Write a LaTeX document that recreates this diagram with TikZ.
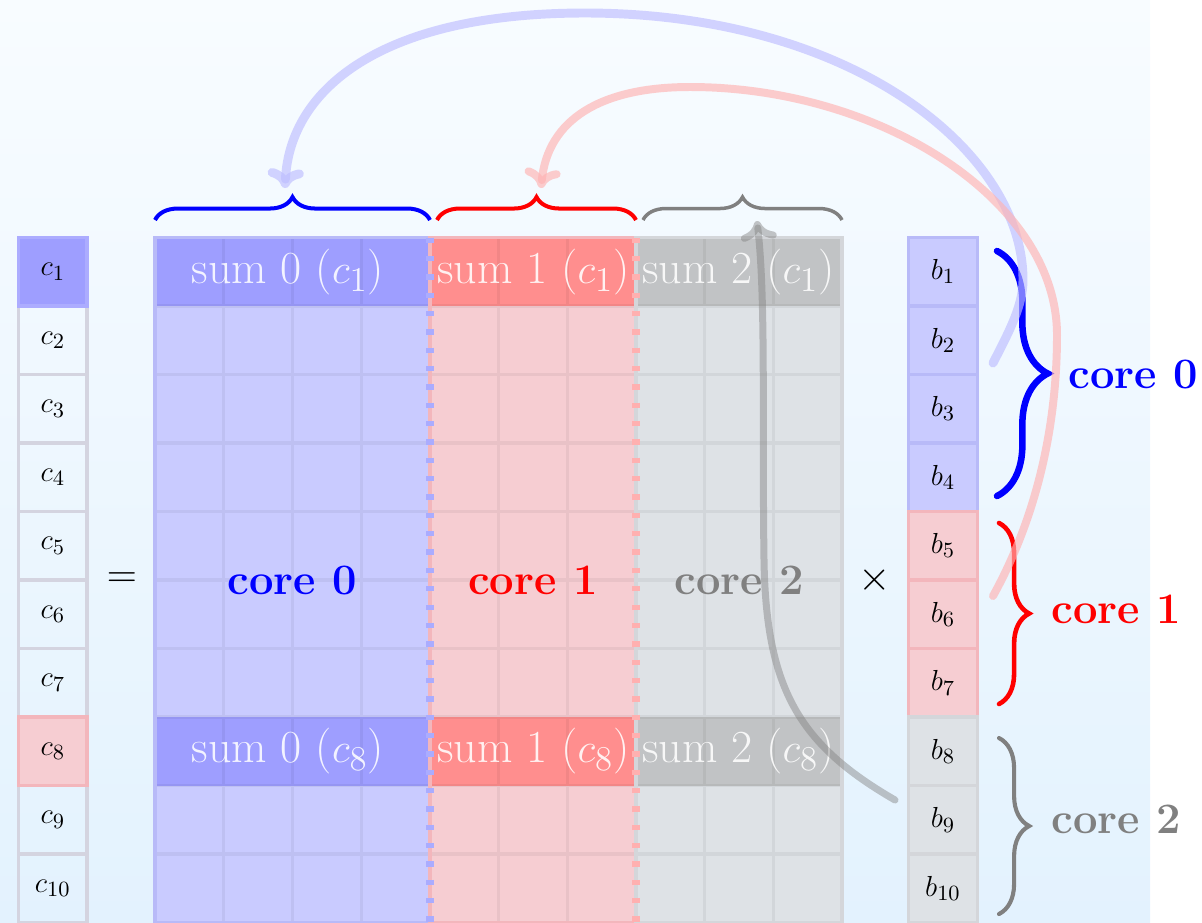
\documentclass[tikz,border=0pt]{standalone}
\usetikzlibrary{decorations.pathreplacing,arrows.meta}
\definecolor{bgTop}{RGB}{248,252,255}
\definecolor{bgBot}{RGB}{227,242,254}
\definecolor{cBorder}{RGB}{212,212,224}
\definecolor{blueHead}{RGB}{158,158,255}
\definecolor{blueHeadEdge}{RGB}{172,172,255}
\definecolor{blueCell}{RGB}{201,203,255}
\definecolor{blueEdge}{RGB}{184,186,248}
\definecolor{redHead}{RGB}{255,142,142}
\definecolor{redCell}{RGB}{246,205,210}
\definecolor{redEdge}{RGB}{243,182,188}
\definecolor{grayHead}{RGB}{193,195,197}
\definecolor{grayCell}{RGB}{222,226,230}
\definecolor{grayEdge}{RGB}{212,214,218}
\definecolor{sepBlue}{RGB}{170,172,255}
\definecolor{sepRed}{RGB}{255,176,176}
\tikzset{
  cellbox/.style={minimum width=1cm, minimum height=0.997cm, inner sep=0pt, line width=1.45pt, font=\fontsize{13}{15}\selectfont},
  cplain/.style={cellbox, draw=cBorder},
  cblue/.style={cellbox, draw=blueHeadEdge, fill=blueHead},
  cred/.style={cellbox, draw=redEdge, fill=redCell},
  bblue/.style={cellbox, draw=blueEdge, fill=blueCell},
  bred/.style={cellbox, draw=redEdge, fill=redCell},
  bgray/.style={cellbox, draw=grayEdge, fill=grayCell},
  gridline/.style={draw=black, draw opacity=0.05, line width=1.3pt},
  sepline/.style={line width=3.1pt, dash pattern=on 2.2pt off 5.4pt},
  headtxt/.style={font=\fontsize{19}{23}\selectfont, text=white, text opacity=0.88, inner sep=0pt},
  coretxt/.style={font=\fontsize{18}{22}\selectfont\bfseries, inner sep=0pt},
  topbrace/.style={decorate, decoration={brace, amplitude=9.5pt}, line width=1.66pt},
  sidebrace/.style={decorate, decoration={brace, amplitude=#1}, line cap=round},
  flow/.style={line width=#1, line cap=round, -{To[length=8pt,width=15pt,round]}},
}
\begin{document}
\begin{tikzpicture}[x=0.014556cm, y=-0.014556cm]
\useasboundingbox (0,0) rectangle (1202,922);
\shade[top color=bgTop, bottom color=bgBot] (0,0) rectangle (1150,922);

% matrix regions
\fill[blueCell] (155,237.5) rectangle (429.8,922.5);
\fill[redCell] (429.8,237.5) rectangle (635.9,922.5);
\fill[grayCell] (635.9,237.5) rectangle (842,922.5);
\foreach \yy in {237.5,717}{
  \fill[blueHead] (155,\yy) rectangle (429.8,\yy+68.5);
  \fill[redHead] (429.8,\yy) rectangle (635.9,\yy+68.5);
  \fill[grayHead] (635.9,\yy) rectangle (842,\yy+68.5);
}
\draw[gridline] foreach \j in {1,...,9}{(155+68.7*\j,237.5) -- (155+68.7*\j,922.5)}
                foreach \i in {1,...,9}{(155,237.5+68.5*\i) -- (842,237.5+68.5*\i)};
\draw[blueEdge, line width=1.45pt] (155,237.5) rectangle (429.8,922.5);
\draw[redEdge, line width=1.45pt] (429.8,237.5) rectangle (635.9,922.5);
\draw[grayEdge, line width=1.45pt] (635.9,237.5) rectangle (842,922.5);
\draw[sepline, draw=sepBlue] (429.8,237.5) -- (429.8,922.5);
\draw[sepline, draw=sepRed] (635.9,237.5) -- (635.9,922.5);

% c column
\foreach \i in {2,...,7,9,10}{
  \node[cplain] (c\i) at (52.85,203.25+68.5*\i) {$c_{\i}$};
}
\node[cblue] (c1) at (52.85,271.75) {$c_{1}$};
\node[cred] (c8) at (52.85,751.25) {$c_{8}$};

% b column
\foreach \i in {1,...,4}{
  \node[bblue] (b\i) at (943,203.25+68.5*\i) {$b_{\i}$};
}
\foreach \i in {5,...,7}{
  \node[bred] (b\i) at (943,203.25+68.5*\i) {$b_{\i}$};
}
\foreach \i in {8,...,10}{
  \node[bgray] (b\i) at (943,203.25+68.5*\i) {$b_{\i}$};
}

% header texts
\node[headtxt] (h01) at (288,271.75) {sum 0 ($c_1$)};
\node[headtxt] (h11) at (533.5,271.75) {sum 1 ($c_1$)};
\node[headtxt] (h21) at (738.5,271.75) {sum 2 ($c_1$)};
\node[headtxt] (h08) at (288,751.25) {sum 0 ($c_8$)};
\node[headtxt] (h18) at (533.5,751.25) {sum 1 ($c_8$)};
\node[headtxt] (h28) at (738.5,751.25) {sum 2 ($c_8$)};

% core labels in the matrix
\node[coretxt, text=blue] (m0) at (292,580) {core 0};
\node[coretxt, text=red] (m1) at (532.85,580) {core 1};
\node[coretxt, text=gray] (m2) at (738.95,580) {core 2};

\node[font=\LARGE] (eq) at (122,580) {$=$};
\node[font=\LARGE] (times) at (875,580) {$\times$};

% top braces
\draw[topbrace, blue] (155,220) -- (430,220);
\draw[topbrace, red] (437,220) -- (636,220);
\draw[topbrace, gray, line width=1.45pt] (643,220) -- (842,220);

% side braces and labels
\draw[sidebrace=21pt, blue, line width=2.7pt] (997,251) -- (997,496);
\draw[sidebrace=12.5pt, red, line width=1.9pt] (999,523) -- (999,704);
\draw[sidebrace=12.5pt, gray, line width=1.7pt] (999,738) -- (999,914);
\node[coretxt, text=blue, anchor=base west] (l0) at (1068,388) {core 0};
\node[coretxt, text=red, anchor=base west] (l1) at (1051,623) {core 1};
\node[coretxt, text=gray, anchor=base west] (l2) at (1051,833) {core 2};

% flow arrows
\coordinate (bs) at (993,363);
\coordinate (bt) at (285,188);
\coordinate (rs) at (993,596);
\coordinate (rt) at (541,188);
\coordinate (gs) at (895,800);
\coordinate (gt) at (757,221);
\draw[flow=3.7pt, draw=blue!26, opacity=0.65] (bs) .. controls (1010,330) and (1023,305) .. (1023,280)
  .. controls (1023,150) and (850,13) .. (585,13) .. controls (380,13) and (290,90) .. (bt);
\draw[flow=3.3pt, draw=red!30, opacity=0.65] (rs) .. controls (1035,520) and (1057,430) .. (1057,335)
  .. controls (1057,200) and (880,87) .. (690,87) .. controls (600,87) and (548,120) .. (rt);
\draw[flow=2.9pt, draw=gray, opacity=0.45] (gs) .. controls (800,745) and (766,690) .. (764,560)
  .. controls (762,420) and (766,300) .. (gt);
\end{tikzpicture}
\end{document}
